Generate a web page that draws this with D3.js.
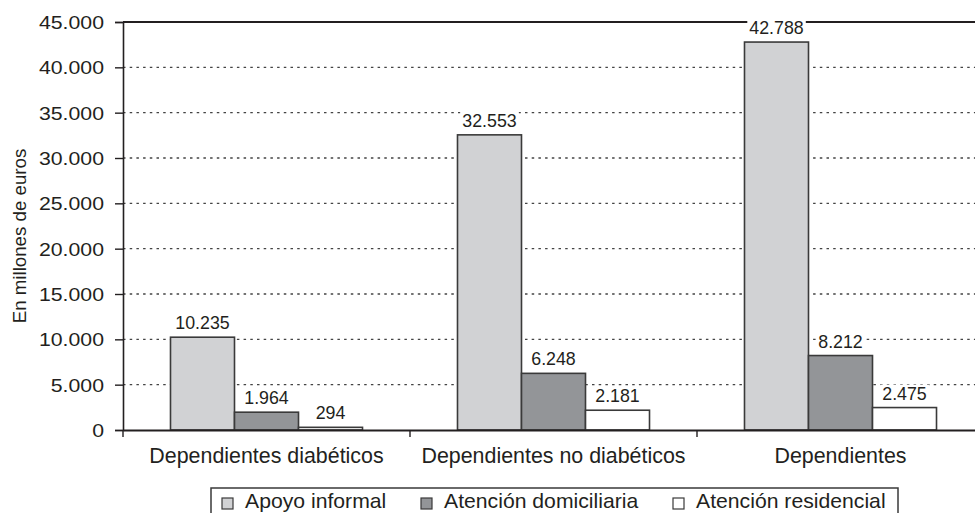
<!DOCTYPE html>
<html>
<head>
<meta charset="utf-8">
<script src="https://cdn.jsdelivr.net/npm/d3@7"></script>
<style>
  html, body { margin: 0; padding: 0; background: #fff; }
  svg { display: block; font-family: "Liberation Sans", Arial, Helvetica, sans-serif; }
</style>
</head>
<body>
<svg id="chart" width="975" height="513"></svg>
<script>
// Costes anuales por tipo de cuidado (millones de euros)
const categories = ["Dependientes diabéticos", "Dependientes no diabéticos", "Dependientes"];
const seriesNames = ["Apoyo informal", "Atención domiciliaria", "Atención residencial"];
const apoyoInformal = [10235, 32553, 42788];
const atencionDomiciliaria = [1964, 6248, 8212];
const atencionResidencial = [294, 2181, 2475];
const yTicks = [0, 5000, 10000, 15000, 20000, 25000, 30000, 35000, 40000, 45000];
const seriesColors = ["#d1d2d4", "#939598", "#ffffff"];

const seriesValues = [apoyoInformal, atencionDomiciliaria, atencionResidencial];

const svg = d3.select("#chart");
const margin = { left: 123, top: 22, right: 984, bottom: 430 };
const ink = "#231f20";
const outline = "#3a3a3a";

const fmt = v => d3.format(",")(v).replace(/,/g, ".");

const x0 = d3.scaleBand().domain(categories).range([margin.left, margin.right]).paddingInner(0).paddingOuter(0);
const x1 = d3.scaleBand().domain(seriesNames).range([0, x0.bandwidth()]).paddingInner(0).paddingOuter(0.742);
const y = d3.scaleLinear().domain([0, 45000]).range([margin.bottom, margin.top]);

// dotted gridlines
svg.append("g")
  .selectAll("line")
  .data(yTicks.filter(t => t > 0 && t < 45000))
  .join("line")
  .attr("x1", margin.left).attr("x2", margin.right)
  .attr("y1", d => y(d)).attr("y2", d => y(d))
  .attr("stroke", "#444").attr("stroke-width", 1.3)
  .attr("stroke-dasharray", "2.5,4.2");

// top border
svg.append("line")
  .attr("x1", margin.left).attr("x2", margin.right)
  .attr("y1", y(45000)).attr("y2", y(45000))
  .attr("stroke", ink).attr("stroke-width", 2);

// y axis (labels slightly widened)
const tickStretch = 1.12;
const yAxis = d3.axisLeft(y).tickValues(yTicks).tickSize(8).tickPadding(11).tickFormat(fmt);
const gy = svg.append("g").attr("transform", `translate(${margin.left},0)`).call(yAxis);
gy.select(".domain").attr("stroke", ink).attr("stroke-width", 1.6);
gy.selectAll(".tick line").attr("stroke", ink).attr("stroke-width", 1.4);
gy.selectAll(".tick text")
  .attr("fill", ink)
  .attr("font-size", 19)
  .attr("font-family", "Liberation Sans, Arial, sans-serif")
  .attr("x", -19 / tickStretch)
  .attr("dy", "0.35em")
  .attr("transform", `scale(${tickStretch},1)`);

// bars
const groups = svg.append("g")
  .selectAll("g")
  .data(categories)
  .join("g")
  .attr("transform", d => `translate(${x0(d)},0)`);

const barData = (c, i) => seriesNames.map((s, k) => ({ series: s, k, value: seriesValues[k][i] }));

groups.selectAll("rect")
  .data((c, i) => barData(c, i))
  .join("rect")
  .attr("x", d => x1(d.series))
  .attr("width", x1.bandwidth())
  .attr("y", d => y(d.value))
  .attr("height", d => y(0) - y(d.value))
  .attr("fill", d => seriesColors[d.k])
  .attr("stroke", outline)
  .attr("stroke-width", 1.6);

// value labels with white backing
const labels = groups.selectAll("g.lbl")
  .data((c, i) => barData(c, i))
  .join("g")
  .attr("class", "lbl");

labels.append("text")
  .attr("x", d => x1(d.series) + x1.bandwidth() / 2)
  .attr("y", d => y(d.value) - 8)
  .attr("text-anchor", "middle")
  .attr("font-size", 17.8)
  .attr("fill", ink)
  .text(d => fmt(d.value));

labels.each(function() {
  const g = d3.select(this);
  const bb = g.select("text").node().getBBox();
  g.insert("rect", "text")
    .attr("x", bb.x - 2).attr("y", bb.y + 1)
    .attr("width", bb.width + 4).attr("height", bb.height - 2)
    .attr("fill", "#fff");
});

// x axis baseline with category separators
const xAxis = d3.axisBottom(x0).tickSize(0).tickPadding(0).tickFormat("");
const gx = svg.append("g").attr("transform", `translate(0,${y(0)})`).call(xAxis);
gx.select(".domain").attr("stroke", ink).attr("stroke-width", 1.8);
gx.selectAll(".tick").remove();

svg.append("g")
  .selectAll("line")
  .data(categories)
  .join("line")
  .attr("x1", d => x0(d)).attr("x2", d => x0(d))
  .attr("y1", y(0)).attr("y2", y(0) + 7)
  .attr("stroke", ink).attr("stroke-width", 1.4);

svg.append("g")
  .selectAll("text")
  .data(categories)
  .join("text")
  .attr("x", d => x0(d) + x0.bandwidth() / 2)
  .attr("y", 463)
  .attr("text-anchor", "middle")
  .attr("font-size", 21.4)
  .attr("fill", ink)
  .text(d => d);

// y axis title
svg.append("text")
  .attr("transform", "translate(26,236) rotate(-90)")
  .attr("text-anchor", "middle")
  .attr("font-size", 18.7)
  .attr("fill", ink)
  .text("En millones de euros");

// legend
const legend = svg.append("g");
legend.append("rect")
  .attr("x", 211).attr("y", 488)
  .attr("width", 687).attr("height", 40)
  .attr("fill", "#fff")
  .attr("stroke", outline).attr("stroke-width", 1.5);

const legendX = [222, 421, 673];
const items = legend.selectAll("g.item")
  .data(seriesNames)
  .join("g")
  .attr("class", "item")
  .attr("transform", (d, i) => `translate(${legendX[i]},0)`);

items.append("rect")
  .attr("x", 0).attr("y", 498)
  .attr("width", 11).attr("height", 11)
  .attr("fill", (d, i) => seriesColors[i])
  .attr("stroke", outline).attr("stroke-width", 1.2);

items.append("text")
  .attr("transform", "translate(23,508) scale(1.06,1)")
  .attr("font-size", 20)
  .attr("fill", ink)
  .text(d => d);
</script>
</body>
</html>
